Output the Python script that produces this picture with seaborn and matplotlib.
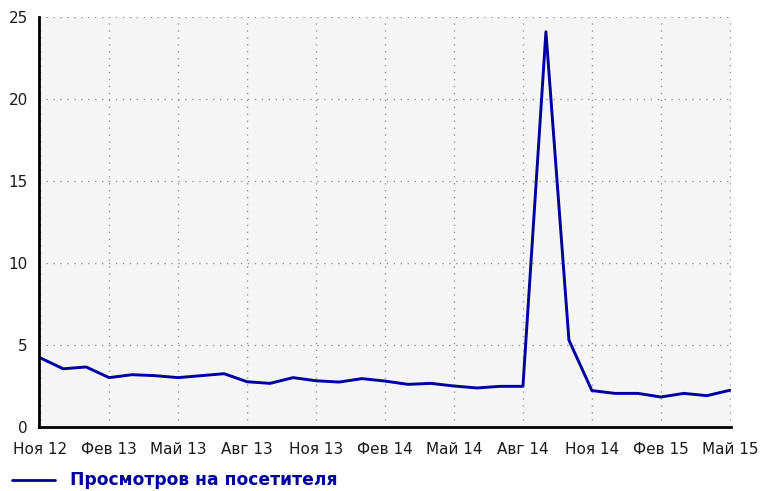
import matplotlib
matplotlib.use("Agg")
import matplotlib.pyplot as plt
import seaborn as sns
import pandas as pd
import numpy as np

months = ["Ноя 12", "Дек 12", "Янв 13", "Фев 13", "Мар 13", "Апр 13", "Май 13", "Июн 13",
          "Июл 13", "Авг 13", "Сен 13", "Окт 13", "Ноя 13", "Дек 13", "Янв 14", "Фев 14",
          "Мар 14", "Апр 14", "Май 14", "Июн 14", "Июл 14", "Авг 14", "Сен 14", "Окт 14",
          "Ноя 14", "Дек 14", "Янв 15", "Фев 15", "Мар 15", "Апр 15", "Май 15"]
views_per_visitor = [4.22, 3.55, 3.66, 3.01, 3.19, 3.13, 3.01, 3.13, 3.25, 2.76, 2.66,
                     3.01, 2.82, 2.74, 2.95, 2.80, 2.60, 2.66, 2.50, 2.38, 2.48, 2.48,
                     24.1, 5.3, 2.22, 2.05, 2.05, 1.83, 2.05, 1.91, 2.24]
series_name = "Просмотров на посетителя"
y_ticks = [0, 5, 10, 15, 20, 25]

df = pd.DataFrame({"idx": np.arange(len(months)), "value": views_per_visitor})

sns.set_style("white")
plt.rcParams["font.family"] = ["DejaVu Sans"]

fig = plt.figure(figsize=(7.6, 4.91), dpi=100)
ax = fig.add_axes([39/760, 1 - 427/491, (731 - 39)/760, (427 - 17)/491])
ax.set_facecolor("#f5f5f5")

sns.lineplot(data=df, x="idx", y="value", ax=ax, color="#0000a0", linewidth=2.1)

xt = list(range(0, len(months), 3))
ax.set_xticks(xt)
ax.set_xticklabels([months[i] for i in xt], fontsize=11, color="#1a1a1a")
ax.set_yticks(y_ticks)
ax.set_yticklabels([str(v) for v in y_ticks], fontsize=11, color="#1a1a1a")
ax.set_xlim(-0.05, len(months) - 1 + 0.05)
ax.set_ylim(0, 25)
ax.set_xlabel("")
ax.set_ylabel("")

ax.grid(True, color="#9a9a9a", linestyle=(0, (1, 4)), linewidth=1)
for s in ["top", "right"]:
    ax.spines[s].set_visible(False)
for s in ["left", "bottom"]:
    ax.spines[s].set_color("black")
    ax.spines[s].set_linewidth(2)
ax.tick_params(axis="both", direction="out", length=6, width=1, color="black")
ax.tick_params(axis="x", pad=5)
ax.tick_params(axis="y", pad=2)

fig.lines.append(plt.Line2D([12/760, 55/760], [1 - 480/491, 1 - 480/491],
                            color="#0000a0", linewidth=2, transform=fig.transFigure))
fig.text(70/760, 1 - 480/491, series_name, color="#0000a0", fontsize=12.3,
         fontweight="bold", va="center", ha="left")

fig.savefig("out.png", dpi=100)
